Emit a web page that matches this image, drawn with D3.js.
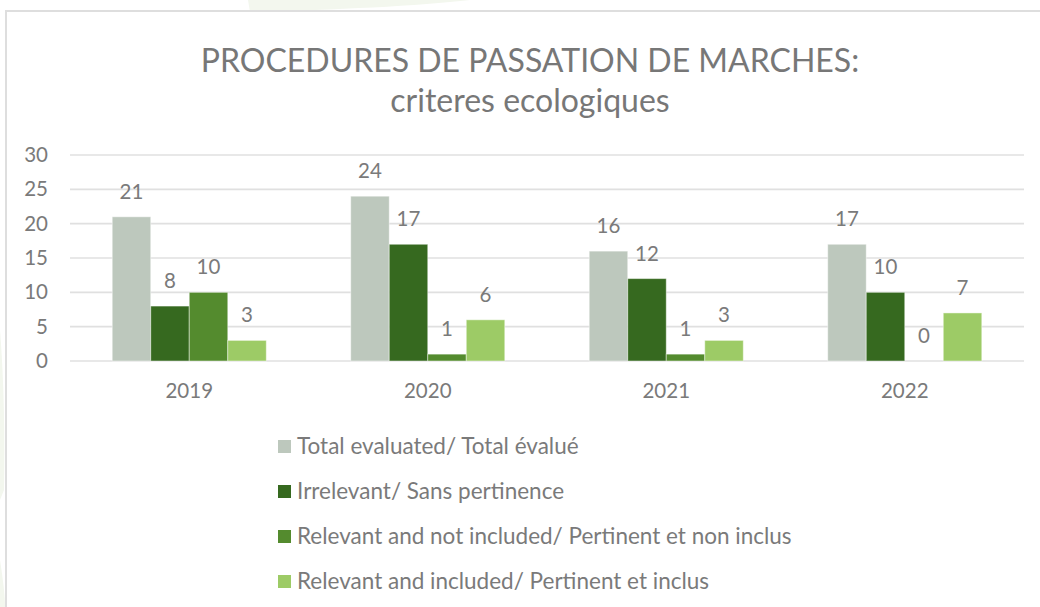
<!DOCTYPE html>
<html>
<head>
<meta charset="utf-8">
<title>Procedures de passation de marches</title>
<script src="https://cdn.jsdelivr.net/npm/d3@7"></script>
<style>
  body { margin: 0; background: #fff; }
  svg { display: block; font-family: Lato, "Open Sans", sans-serif; }
</style>
</head>
<body>
<div id="chart"></div>
<script>
// data
const years = ["2019", "2020", "2021", "2022"];
const seriesNames = [
  "Total evaluated/ Total évalué",
  "Irrelevant/ Sans pertinence",
  "Relevant and not included/ Pertinent et non inclus",
  "Relevant and included/ Pertinent et inclus"
];
const totalEvaluated = [21, 24, 16, 17];
const irrelevant = [8, 17, 12, 10];
const relevantNotIncluded = [10, 1, 1, 0];
const relevantIncluded = [3, 6, 3, 7];
const yTicks = [0, 5, 10, 15, 20, 25, 30];
const colors = ["#bdc8bd", "#36691f", "#548b2e", "#9dcb66"];

const width = 1040, height = 607;
const margin = {top: 155, left: 70, right: 16, bottom: 246};

const svg = d3.select("#chart").append("svg")
    .attr("width", width)
    .attr("height", height);

// faint background shapes behind the chart frame
svg.append("path")
    .attr("d", "M248,0 L470,0 C420,6 330,10 250,12 Z")
    .attr("fill", "#f3f7ee");
svg.append("path")
    .attr("d", "M0,330 C4,380 5,440 4,490 L0,500 Z")
    .attr("fill", "#f3f7ee");
svg.append("path")
    .attr("d", "M0,560 C3,580 5,595 5,607 L0,607 Z")
    .attr("fill", "#f3f7ee");

// chart frame
svg.append("rect")
    .attr("x", 6).attr("y", 11)
    .attr("width", width + 10).attr("height", height + 10)
    .attr("fill", "#fff")
    .attr("stroke", "#dedede")
    .attr("stroke-width", 2);

const x0 = d3.scaleBand()
    .domain(years)
    .range([margin.left, width - margin.right]);

const x1 = d3.scaleBand()
    .domain(d3.range(seriesNames.length))
    .range([x0.bandwidth() * 0.177, x0.bandwidth() * 0.823]);

const y = d3.scaleLinear()
    .domain([0, 30])
    .range([361, margin.top]);

// gridlines
svg.append("g")
    .selectAll("line")
    .data(yTicks)
    .join("line")
    .attr("x1", margin.left)
    .attr("x2", width - margin.right)
    .attr("y1", d => y(d))
    .attr("y2", d => y(d))
    .attr("stroke", "#e0e0e0")
    .attr("stroke-width", 1.6);

// y axis labels
const yAxis = svg.append("g")
    .attr("transform", "translate(" + 48 + ",0)")
    .call(d3.axisLeft(y).tickValues(yTicks).tickSize(0).tickPadding(0));
yAxis.select(".domain").remove();
yAxis.selectAll("text")
    .attr("fill", "#7a7a7a")
    .attr("font-size", 20.5)
    .attr("font-family", "Lato, sans-serif");

// x axis labels
const xAxis = svg.append("g")
    .attr("transform", "translate(0," + 361 + ")")
    .call(d3.axisBottom(x0).tickSize(0).tickPadding(22));
xAxis.select(".domain").remove();
xAxis.selectAll("text")
    .attr("fill", "#7a7a7a")
    .attr("font-size", 20.5)
    .attr("font-family", "Lato, sans-serif");

const allSeries = [totalEvaluated, irrelevant, relevantNotIncluded, relevantIncluded];
const rows = [];
years.forEach((yr, i) => {
  allSeries.forEach((s, k) => rows.push({year: yr, k: k, v: s[i]}));
});

svg.append("g")
    .selectAll("rect")
    .data(rows)
    .join("rect")
    .attr("x", d => x0(d.year) + x1(d.k))
    .attr("y", d => y(d.v))
    .attr("width", x1.bandwidth())
    .attr("height", d => y(0) - y(d.v))
    .attr("fill", d => colors[d.k])
    .attr("stroke", "#ffffff")
    .attr("stroke-opacity", 0.45)
    .attr("stroke-width", 1);

svg.append("g")
    .selectAll("text")
    .data(rows)
    .join("text")
    .attr("x", d => x0(d.year) + x1(d.k) + x1.bandwidth() / 2)
    .attr("y", d => y(d.v) - 18)
    .attr("text-anchor", "middle")
    .attr("fill", "#7a7a7a")
    .attr("font-size", 20.5)
    .text(d => d.v);

// title
const title = svg.append("text")
    .attr("text-anchor", "middle")
    .attr("fill", "#777777")
    .attr("font-size", 32);
title.append("tspan")
    .attr("x", 530).attr("y", 72)
    .text("PROCEDURES DE PASSATION DE MARCHES:");
title.append("tspan")
    .attr("x", 530).attr("y", 112)
    .text("criteres ecologiques");

// legend
const legend = svg.append("g")
    .selectAll("g")
    .data(seriesNames)
    .join("g")
    .attr("transform", (d, i) => "translate(278," + (440 + i * 45) + ")");
legend.append("rect")
    .attr("width", 13).attr("height", 13)
    .attr("fill", (d, i) => colors[i]);
legend.append("text")
    .attr("x", 19).attr("y", 14)
    .attr("fill", "#7a7a7a")
    .attr("font-size", 22.5)
    .text(d => d);
</script>
</body>
</html>
